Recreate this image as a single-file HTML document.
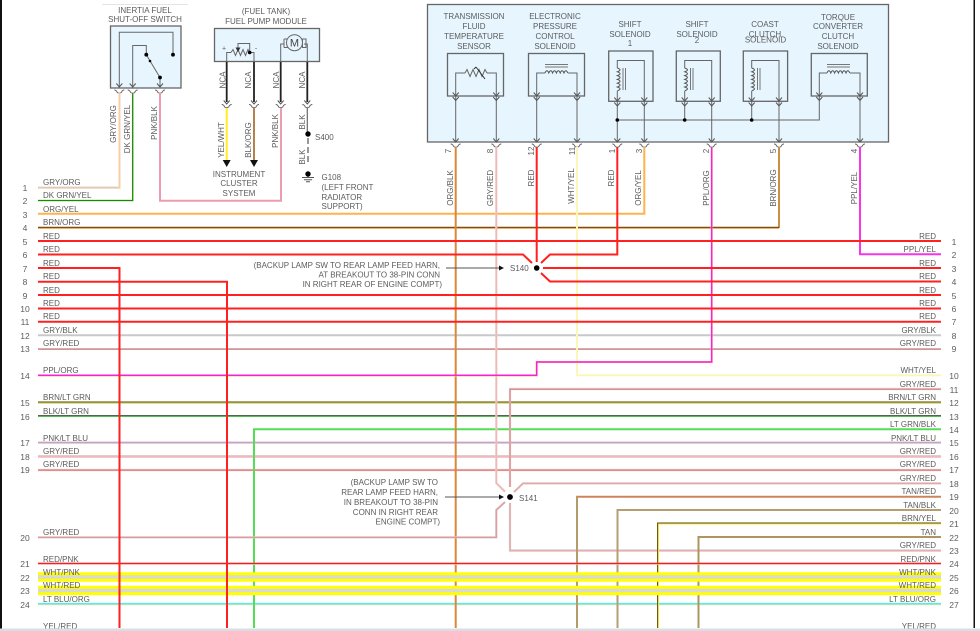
<!DOCTYPE html>
<html><head><meta charset="utf-8"><style>
html,body{margin:0;padding:0;background:#fff;width:980px;height:631px;overflow:hidden}
svg{display:block}
text{font-family:"Liberation Sans",sans-serif;font-size:8px;fill:#5c5c5c}
.e{text-anchor:end}.m{text-anchor:middle}
.n{font-size:8.5px;text-anchor:middle}
.k{fill:none;stroke:#666;stroke-width:1}
.b{fill:#e6f5fe;stroke:#666;stroke-width:1.3}
.w path{fill:none;stroke-linejoin:miter}
</style></head><body>
<svg width="980" height="631" viewBox="0 0 980 631" xmlns="http://www.w3.org/2000/svg">
<defs>
<path id="a" d="M-3-3.5L0 0L3-3.5" fill="none" stroke="#555" stroke-width="1"/>
<path id="c" d="M-5 0Q-3 0-2 2.5Q0 4 2 2.5Q3 0 5 0" fill="none" stroke="#666" stroke-width="1"/>
<path id="h" d="M0 0q1.9-4.5 3.8 0q1.9-4.5 3.8 0q1.9-4.5 3.8 0q1.9-4.5 3.8 0q1.9-4.5 3.8 0q1.9-4.5 3.8 0" fill="none" stroke="#555" stroke-width="1"/>
<path id="v" d="M0 0q5.5 1.9 0 3.8q5.5 1.9 0 3.8q5.5 1.9 0 3.8q5.5 1.9 0 3.8q5.5 1.9 0 3.8q5.5 1.9 0 3.8" fill="none" stroke="#555" stroke-width="1"/>
</defs>
<rect x="0" y="0" width="2" height="631" fill="#111"/>
<rect x="973.5" y="0" width="1.5" height="628" fill="#111"/>
<rect x="102" y="4" width="86" height="0.8" fill="#ddd"/>

<!-- main module -->
<rect class="b" x="427.5" y="4.5" width="461" height="137.5"/>
<rect class="b" x="447.5" y="53.5" width="56" height="42.5"/>
<rect class="b" x="528.5" y="53.5" width="56" height="42.5"/>
<rect class="b" x="608.7" y="51" width="44.3" height="50.3"/>
<rect class="b" x="676.3" y="51" width="44" height="50.3"/>
<rect class="b" x="743.3" y="51" width="44.3" height="50.3"/>
<rect class="b" x="811.3" y="53.5" width="56" height="42.5"/>
<g class="k">
<path d="M455.7 142V73H465M487 73H496.3V142"/>
<path d="M465 73l2-3.5 3 7 3-7 3 7 3-7 3 7 3-7 2 3.5"/>
<path d="M474 69l2-2M476 67l9 12" stroke="#333"/>
<path d="M536.7 142V73H545M568 73H577V142"/>
<path d="M617.3 142V91M617.3 68V60.5H644.3V142"/>
<path d="M684.7 120V91M684.7 68V60.5H711.7V142"/>
<path d="M751.7 120V91M751.7 68V60.5H779V142"/>
<path d="M819.3 96V73H827M850 73H860V142"/>
<path d="M617.3 120H819.3V96"/>
<path d="M545 64.5H568M545 67H568M827 64.5H850M827 67H850" stroke="#777"/>
<path d="M623 68V90M625.5 68V90M690.5 68V90M693 68V90M757.5 68V90M760 68V90" stroke="#777"/>
</g>
<use href="#h" x="545" y="73"/><use href="#h" x="827" y="73"/>
<use href="#v" x="617.3" y="68"/><use href="#v" x="684.7" y="68"/><use href="#v" x="751.7" y="68"/>
<circle cx="617.3" cy="120" r="1.8" fill="#000"/><circle cx="684.7" cy="120" r="1.8" fill="#000"/><circle cx="751.7" cy="120" r="1.8" fill="#000"/>
<g>
<use href="#a" x="455.7" y="96"/><use href="#a" x="455.7" y="100.5"/><use href="#a" x="455.7" y="142"/>
<use href="#a" x="496.3" y="96"/><use href="#a" x="496.3" y="100.5"/><use href="#a" x="496.3" y="142"/>
<use href="#a" x="536.7" y="96"/><use href="#a" x="536.7" y="100.5"/><use href="#a" x="536.7" y="142"/>
<use href="#a" x="577" y="96"/><use href="#a" x="577" y="100.5"/><use href="#a" x="577" y="142"/>
<use href="#a" x="617.3" y="101"/><use href="#a" x="617.3" y="106"/><use href="#a" x="617.3" y="142"/>
<use href="#a" x="644.3" y="101"/><use href="#a" x="644.3" y="106"/><use href="#a" x="644.3" y="142"/>
<use href="#a" x="684.7" y="101"/><use href="#a" x="684.7" y="106"/>
<use href="#a" x="711.7" y="101"/><use href="#a" x="711.7" y="106"/><use href="#a" x="711.7" y="142"/>
<use href="#a" x="751.7" y="101"/><use href="#a" x="751.7" y="106"/>
<use href="#a" x="779" y="101"/><use href="#a" x="779" y="106"/><use href="#a" x="779" y="142"/>
<use href="#a" x="819.3" y="96"/><use href="#a" x="819.3" y="100.5"/>
<use href="#a" x="860" y="96"/><use href="#a" x="860" y="100.5"/><use href="#a" x="860" y="142"/>
</g>
<g>
<use href="#c" x="455.7" y="144"/><use href="#c" x="496.3" y="144"/><use href="#c" x="536.7" y="144"/><use href="#c" x="577" y="144"/><use href="#c" x="617.3" y="144"/><use href="#c" x="644.3" y="144"/><use href="#c" x="711.7" y="144"/><use href="#c" x="779" y="144"/><use href="#c" x="860" y="144"/>
</g>
<g class="m">
<text x="474" y="19">TRANSMISSION</text><text x="474" y="29">FLUID</text><text x="474" y="39">TEMPERATURE</text><text x="474" y="49">SENSOR</text>
<text x="555" y="19">ELECTRONIC</text><text x="555" y="29">PRESSURE</text><text x="555" y="39">CONTROL</text><text x="555" y="49">SOLENOID</text>
<text x="630" y="27">SHIFT</text><text x="630" y="37">SOLENOID</text><text x="630" y="46">1</text>
<text x="697" y="27">SHIFT</text><text x="697" y="37">SOLENOID</text><text x="697" y="43">2</text>
<text x="765" y="27">COAST</text><text x="765" y="37">CLUTCH</text><text x="765.5" y="42.5">SOLENOID</text>
<text x="838" y="20">TORQUE</text><text x="838" y="29">CONVERTER</text><text x="838" y="39">CLUTCH</text><text x="838" y="49">SOLENOID</text>
</g>

<!-- inertia switch -->
<rect class="b" x="110.5" y="26" width="70.5" height="62"/>
<g class="k">
<path d="M119.3 88V32.3H173V54.7"/>
<path d="M132.7 88V45.5H146.3V54.7"/>
<path d="M146.3 54.7L160 77.5V88"/>
</g>
<circle cx="173" cy="54.7" r="1.9" fill="#000"/><circle cx="146.3" cy="54.7" r="1.9" fill="#000"/><circle cx="160" cy="77.5" r="1.9" fill="#000"/><circle cx="150" cy="61" r="1.3" fill="#000"/>
<use href="#a" x="119.3" y="87"/><use href="#a" x="132.7" y="87"/><use href="#a" x="160" y="87"/>
<use href="#c" x="119.3" y="90"/><use href="#c" x="132.7" y="90"/><use href="#c" x="160" y="90"/>
<text class="m" x="145" y="13">INERTIA FUEL</text><text class="m" x="145" y="22">SHUT-OFF SWITCH</text>

<!-- fuel pump -->
<rect class="b" x="214.5" y="28.5" width="105" height="33"/>
<g fill="none" stroke="#222" stroke-width="1.8">
<path d="M226.7 102V62M254 102V62M280.7 102V62M307.3 102V62"/>
</g>
<g class="k">
<path d="M226.7 62V52.5H231M250 52.5H254V62"/>
<path d="M231 52.5l2-3 2.5 6 2.5-6 2.5 6 2.5-6 2.5 6 2.5-6 1.5 3"/>
<path d="M238 50V43.5H249.7V52.5"/>
<path d="M280.7 62V44H284M304 44H307.3V62"/>
<path d="M284 39V47.5M284 39H287.5M284 47.5H287.5M287.5 39V47.5M302.5 39V47.5H306V39Z"/>
</g>
<path d="M235.5 47.5H240.5L238 52Z" fill="#333"/>
<circle cx="249.7" cy="52.5" r="1.8" fill="#000"/>
<circle cx="294.5" cy="42.7" r="8" fill="#e6f5fe" stroke="#666"/>
<text x="294.5" y="46.5" class="m" style="font-size:11px;fill:#444">M</text>
<text x="224" y="50.5" class="m" style="font-size:7px">+</text><text x="256" y="50.5" class="m" style="font-size:7px">-</text>
<use href="#a" x="226.7" y="104"/><use href="#a" x="254" y="104"/><use href="#a" x="280.7" y="104"/><use href="#a" x="307.3" y="104"/>
<use href="#c" x="226.7" y="104.5"/><use href="#c" x="254" y="104.5"/><use href="#c" x="280.7" y="104.5"/><use href="#c" x="307.3" y="104.5"/>
<text class="m" x="266" y="14">(FUEL TANK)</text><text class="m" x="266" y="24">FUEL PUMP MODULE</text>
<text class="m" x="239" y="177">INSTRUMENT</text><text class="m" x="239" y="186">CLUSTER</text><text class="m" x="239" y="196">SYSTEM</text>

<!-- wires -->
<g class="w" stroke-width="2">
<path d="M226.7 108V160" stroke="#ffee22" stroke-width="2"/>
<path d="M254 108V160" stroke="#b5824e" stroke-width="2"/>
<path d="M307.3 108V132" stroke="#666" stroke-width="1.2"/>
<path d="M308 138V165" stroke="#555" stroke-width="1.2" stroke-dasharray="6 3"/>
<path d="M308 174V178" stroke="#555" stroke-width="1"/>
<path d="M38 187.7H119.5V93" stroke="#f7cfa6" stroke-width="2"/>
<path d="M38 187.2H118.5" stroke="#ccc" stroke-width="1"/>
<path d="M38 200.7H132.7V93" stroke="#fbf9c0" stroke-width="2"/>
<path d="M38 200.5H132.7V93" stroke="#118a11" stroke-width="1.3"/>
<path d="M281 108V200.7H160V93" stroke="#ec9cb0" stroke-width="2"/>
<path d="M38 213.7H644.3V147" stroke="#fdb44e" stroke-width="2"/>
<path d="M779 228V147" stroke="#c98f45" stroke-width="2"/>
<path d="M38 228H779" stroke="#f0b070" stroke-width="2"/>
<path d="M38 227.4H779" stroke="#7e4e10" stroke-width="1.2"/>

<!-- through lines -->
<path d="M38 335.3H941" stroke="#c8c8c8" stroke-width="2"/>
<path d="M38 349H941" stroke="#bbb" stroke-width="2"/><path d="M38 349.5H941" stroke="#e88" stroke-width="1"/>
<path d="M38 402.5H941" stroke="#b9d46a" stroke-width="2.2"/><path d="M38 402H941" stroke="#7a4e10" stroke-width="1.1"/>
<path d="M38 416H941" stroke="#55cc55" stroke-width="2"/><path d="M38 415.6H941" stroke="#555" stroke-width="1"/>
<path d="M38 442.7H941" stroke="#9fd4ee" stroke-width="2"/><path d="M38 442.3H941" stroke="#f58ca0" stroke-width="1.1"/>
<path d="M38 456.5H941" stroke="#f9b2b6" stroke-width="2.4"/><path d="M38 455.8H941" stroke="#ccc" stroke-width="1"/>
<path d="M38 470H941" stroke="#c8c8c8" stroke-width="2.2"/><path d="M38 470.2H941" stroke="#f47e7e" stroke-width="1.3"/>
<path d="M38 604.4H941" stroke="#f5dcc0" stroke-width="1.6"/><path d="M38 603.7H941" stroke="#55eee0" stroke-width="1.7"/>

<!-- vertical groups under yellow -->
<path d="M254 628V429.3H941" stroke="#55dd55" stroke-width="2"/>
<path d="M455.7 147V628" stroke="#d9883a" stroke-width="2"/>
<path d="M496.3 147V483L505 491.7" stroke="#ecc" stroke-width="2.2"/><path d="M496.3 147V483L505 491.7" stroke="#f0b6b0" stroke-width="1.2"/>
<path d="M38 537.3H496.3V510L505 502" stroke="#c8c8c8" stroke-width="2.2"/><path d="M38 537.5H496.3V510L505 502" stroke="#f09292" stroke-width="1.1"/>
<path d="M941 389H510V487" stroke="#ccc" stroke-width="2.2"/><path d="M941 389.3H510V487" stroke="#f08080" stroke-width="1.1"/>
<path d="M941 483.3H523L514 492" stroke="#ccc" stroke-width="2.2"/><path d="M941 483.6H523L514 492" stroke="#f4a0a0" stroke-width="1.1"/>
<path d="M510 503V550.5H941" stroke="#ccc" stroke-width="2.2"/><path d="M510 503V550.8H941" stroke="#f4a0a0" stroke-width="1.1"/>
<path d="M577 147V375.3H941" stroke="#fbf7b8" stroke-width="2"/>
<path d="M38 375.5H536.7V362H711.7V147" stroke="#fcc78a" stroke-width="2"/>
<path d="M38 375.2H536.7V362H711.7V147" stroke="#f522d8" stroke-width="1.5"/>
<path d="M860 147V254.3H941" stroke="#f933e8" stroke-width="2"/>

<path d="M941 496.7H577V628" stroke="#b59a6a" stroke-width="2"/><path d="M941 496.9H578" stroke="#e07050" stroke-width="1"/>
<path d="M941 510H617.5V628" stroke="#b59f72" stroke-width="2"/>
<path d="M941 523.5H658V628" stroke="#ffee44" stroke-width="2"/><path d="M941 523H657.6V628" stroke="#5a4a10" stroke-width="1"/>
<path d="M941 537H698.5V628" stroke="#ad9560" stroke-width="2"/>

<!-- yellow bands -->
<rect x="38" y="572.3" width="903" height="9.4" fill="#ffff00" stroke="none"/>
<rect x="38" y="575.3" width="903" height="3.4" fill="#d8d8d8" stroke="none"/>
<rect x="38" y="585.8" width="903" height="9.4" fill="#ffff00" stroke="none"/>
<rect x="38" y="588.8" width="903" height="3.4" fill="#d8d8d8" stroke="none"/>
<path d="M38 563.7H941" stroke="#f7a8a8" stroke-width="2"/><path d="M38 563.4H941" stroke="#ee2222" stroke-width="1.2"/>

<!-- red -->
<g stroke="#ff2020" stroke-width="2">
<path d="M38 241H941"/>
<path d="M38 254.5H523L532 263"/>
<path d="M38 268H119.5V628"/>
<path d="M38 281.7H227V628"/>
<path d="M38 295H941"/>
<path d="M38 308.5H941"/>
<path d="M38 321.7H941"/>
<path d="M536.7 147V262"/>
<path d="M617.3 147V254.5H550L541 263"/>
<path d="M543 268H941"/>
<path d="M541 273L550 281.5H941"/>
</g>
</g>

<path d="M222.7 160H230.7L226.7 167Z" fill="#111"/><path d="M250 160H258L254 167Z" fill="#111"/>
<circle cx="308" cy="134" r="2.7" fill="#000"/><circle cx="308" cy="174" r="2.7" fill="#000"/>
<path d="M302 177.5H314M304 179.7H312M306 181.7H310" stroke="#555" stroke-width="1" fill="none"/>
<circle cx="536.7" cy="268" r="2.8" fill="#000"/>
<circle cx="510" cy="497" r="2.9" fill="#000"/>
<path d="M446 268H500" stroke="#555" stroke-width="1"/><path d="M499 265.5L504 268L499 270.5Z" fill="#111"/>
<path d="M445 497H500" stroke="#555" stroke-width="1"/><path d="M499 494.5L504 497L499 499.5Z" fill="#111"/>

<text x="510" y="271">S140</text>
<text x="519" y="501">S141</text>
<text x="315" y="140">S400</text>
<text x="321.5" y="180">G108</text><text x="321.5" y="190">(LEFT FRONT</text><text x="321.5" y="200">RADIATOR</text><text x="321.5" y="209">SUPPORT)</text>
<text class="e" x="440" y="268">(BACKUP LAMP SW TO REAR LAMP FEED HARN,</text>
<text class="e" x="440" y="277.5">AT BREAKOUT TO 38-PIN CONN</text>
<text class="e" x="442" y="287">IN RIGHT REAR OF ENGINE COMPT)</text>
<text class="e" x="438" y="485">(BACKUP LAMP SW TO</text>
<text class="e" x="438" y="495">REAR LAMP FEED HARN,</text>
<text class="e" x="438" y="505">IN BREAKOUT TO 38-PIN</text>
<text class="e" x="438" y="515">CONN IN RIGHT REAR</text>
<text class="e" x="440" y="524.5">ENGINE COMPT)</text>

<!-- vertical labels -->
<g class="m">
<text transform="translate(225.5 80) rotate(-90)">NCA</text>
<text transform="translate(251 80) rotate(-90)">NCA</text>
<text transform="translate(279 80) rotate(-90)">NCA</text>
<text transform="translate(305 80) rotate(-90)">NCA</text>
<text transform="translate(116 124) rotate(-90)">GRY/ORG</text>
<text transform="translate(130 129) rotate(-90)">DK GRN/YEL</text>
<text transform="translate(157 123) rotate(-90)">PNK/BLK</text>
<text transform="translate(278 131) rotate(-90)">PNK/BLK</text>
<text transform="translate(224 140) rotate(-90)">YEL/WHT</text>
<text transform="translate(251 140) rotate(-90)">BLK/ORG</text>
<text transform="translate(305 122) rotate(-90)">BLK</text>
<text transform="translate(305 157) rotate(-90)">BLK</text>
<text transform="translate(453 188) rotate(-90)">ORG/BLK</text>
<text transform="translate(493 188) rotate(-90)">GRY/RED</text>
<text transform="translate(534 178) rotate(-90)">RED</text>
<text transform="translate(574 186) rotate(-90)">WHT/YEL</text>
<text transform="translate(614 178) rotate(-90)">RED</text>
<text transform="translate(641 188) rotate(-90)">ORG/YEL</text>
<text transform="translate(709 188) rotate(-90)">PPL/ORG</text>
<text transform="translate(776 188) rotate(-90)">BRN/ORG</text>
<text transform="translate(857 188) rotate(-90)">PPL/YEL</text>
<text transform="translate(451 151) rotate(-90)">7</text>
<text transform="translate(493 151) rotate(-90)">8</text>
<text transform="translate(534 151) rotate(-90)">12</text>
<text transform="translate(575 151) rotate(-90)">11</text>
<text transform="translate(615 151) rotate(-90)">1</text>
<text transform="translate(642 151) rotate(-90)">3</text>
<text transform="translate(709 151) rotate(-90)">2</text>
<text transform="translate(776 151) rotate(-90)">5</text>
<text transform="translate(857 151) rotate(-90)">4</text>
</g>

<!-- left labels -->
<g>
<text x="43" y="185">GRY/ORG</text><text x="43" y="198">DK GRN/YEL</text><text x="43" y="212">ORG/YEL</text><text x="43" y="225">BRN/ORG</text>
<text x="43" y="239">RED</text><text x="43" y="252">RED</text><text x="43" y="266">RED</text><text x="43" y="279">RED</text><text x="43" y="293">RED</text><text x="43" y="306">RED</text><text x="43" y="319">RED</text>
<text x="43" y="333">GRY/BLK</text><text x="43" y="346">GRY/RED</text><text x="43" y="373">PPL/ORG</text><text x="43" y="400">BRN/LT GRN</text><text x="43" y="414">BLK/LT GRN</text>
<text x="43" y="441">PNK/LT BLU</text><text x="43" y="454">GRY/RED</text><text x="43" y="467">GRY/RED</text><text x="43" y="535">GRY/RED</text>
<text x="43" y="562">RED/PNK</text><text x="43" y="575">WHT/PNK</text><text x="43" y="588">WHT/RED</text><text x="43" y="602">LT BLU/ORG</text><text x="43" y="629">YEL/RED</text>
</g>
<g class="e">
<text x="936" y="239">RED</text><text x="936" y="252">PPL/YEL</text><text x="936" y="266">RED</text><text x="936" y="279">RED</text><text x="936" y="293">RED</text><text x="936" y="306">RED</text><text x="936" y="319">RED</text>
<text x="936" y="333">GRY/BLK</text><text x="936" y="346">GRY/RED</text><text x="936" y="373">WHT/YEL</text><text x="936" y="387">GRY/RED</text><text x="936" y="400">BRN/LT GRN</text><text x="936" y="414">BLK/LT GRN</text>
<text x="936" y="427">LT GRN/BLK</text><text x="936" y="441">PNK/LT BLU</text><text x="936" y="454">GRY/RED</text><text x="936" y="467">GRY/RED</text><text x="936" y="481">GRY/RED</text><text x="936" y="494">TAN/RED</text><text x="936" y="508">TAN/BLK</text><text x="936" y="521">BRN/YEL</text><text x="936" y="535">TAN</text><text x="936" y="548">GRY/RED</text><text x="936" y="562">RED/PNK</text><text x="936" y="575">WHT/PNK</text><text x="936" y="588">WHT/RED</text><text x="936" y="602">LT BLU/ORG</text><text x="936" y="629">YEL/RED</text>
</g>
<!-- left numbers -->
<g>
<text class="n" x="25" y="191">1</text><text class="n" x="25" y="204">2</text><text class="n" x="25" y="218">3</text><text class="n" x="25" y="231">4</text><text class="n" x="25" y="245">5</text><text class="n" x="25" y="258">6</text><text class="n" x="25" y="272">7</text><text class="n" x="25" y="285">8</text><text class="n" x="25" y="299">9</text><text class="n" x="25" y="312">10</text><text class="n" x="25" y="325">11</text><text class="n" x="25" y="339">12</text><text class="n" x="25" y="352">13</text><text class="n" x="25" y="379">14</text><text class="n" x="25" y="406">15</text><text class="n" x="25" y="420">16</text><text class="n" x="25" y="446">17</text><text class="n" x="25" y="460">18</text><text class="n" x="25" y="473">19</text><text class="n" x="25" y="541">20</text><text class="n" x="25" y="567">21</text><text class="n" x="25" y="581">22</text><text class="n" x="25" y="594">23</text><text class="n" x="25" y="608">24</text>
</g>
<g>
<text class="n" x="954" y="245">1</text><text class="n" x="954" y="258">2</text><text class="n" x="954" y="272">3</text><text class="n" x="954" y="285">4</text><text class="n" x="954" y="299">5</text><text class="n" x="954" y="312">6</text><text class="n" x="954" y="325">7</text><text class="n" x="954" y="339">8</text><text class="n" x="954" y="352">9</text><text class="n" x="954" y="379">10</text><text class="n" x="954" y="393">11</text><text class="n" x="954" y="406">12</text><text class="n" x="954" y="420">13</text><text class="n" x="954" y="433">14</text><text class="n" x="954" y="446">15</text><text class="n" x="954" y="460">16</text><text class="n" x="954" y="473">17</text><text class="n" x="954" y="487">18</text><text class="n" x="954" y="500">19</text><text class="n" x="954" y="514">20</text><text class="n" x="954" y="527">21</text><text class="n" x="954" y="541">22</text><text class="n" x="954" y="554">23</text><text class="n" x="954" y="567">24</text><text class="n" x="954" y="581">25</text><text class="n" x="954" y="594">26</text><text class="n" x="954" y="608">27</text>
</g>
<rect x="0" y="628.5" width="980" height="2.5" fill="#d9dee3"/>
</svg>
</body></html>
